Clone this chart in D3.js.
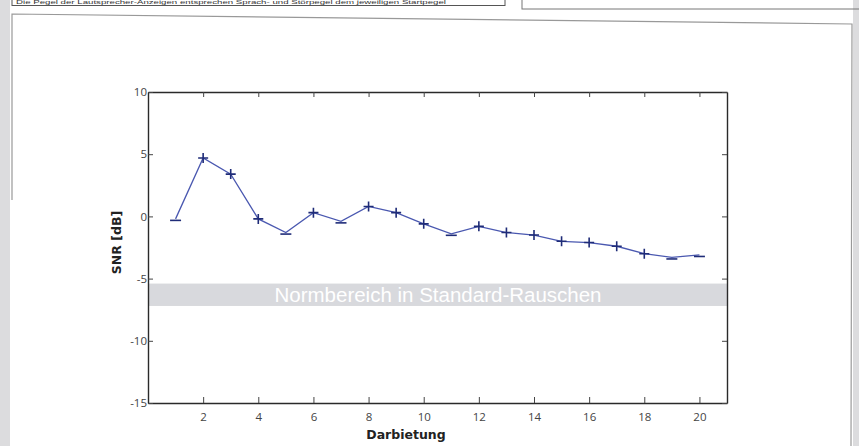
<!DOCTYPE html>
<html>
<head>
<meta charset="utf-8">
<script src="https://cdn.jsdelivr.net/npm/d3@7"></script>
<style>
  html, body { margin: 0; padding: 0; background: #dcdcde; }
  svg { display: block; }
</style>
</head>
<body>
<svg id="page" width="859" height="446"></svg>
<script>
// Presentations (Darbietung) and measured SNR in dB
const darbietung = [1, 2, 3, 4, 5, 6, 7, 8, 9, 10, 11, 12, 13, 14, 15, 16, 17, 18, 19, 20];
const snrValues  = [-0.2, 4.7, 3.4, -0.2, -1.3, 0.3, -0.4, 0.8, 0.3, -0.6, -1.4, -0.8, -1.3, -1.5, -2.0, -2.1, -2.4, -3.0, -3.3, -3.1];
// response marker per presentation: "+" or "-"
const markers    = ["-", "+", "+", "+", "-", "+", "-", "+", "+", "+", "-", "+", "+", "+", "+", "+", "+", "+", "-", "-"];
const xTicks     = [2, 4, 6, 8, 10, 12, 14, 16, 18, 20];
const yTicks     = [-15, -10, -5, 0, 5, 10];
const normRange  = [-7.2, -5.4];
const normLabel  = "Normbereich in Standard-Rauschen";
const headerText = "Die Pegel der Lautsprecher-Anzeigen entsprechen Sprach- und Störpegel dem jeweiligen Startpegel";

const svg = d3.select("#page");

// sheet background and frames
svg.append("rect").attr("x", 10).attr("y", 0).attr("width", 843).attr("height", 446).attr("fill", "#ffffff");
svg.append("rect").attr("x", 12).attr("y", -10).attr("width", 493).attr("height", 15.5)
  .attr("fill", "none").attr("stroke", "#555").attr("stroke-width", 1);
svg.append("rect").attr("x", 522).attr("y", -10).attr("width", 345).attr("height", 19)
  .attr("fill", "none").attr("stroke", "#777").attr("stroke-width", 1);
svg.append("text").attr("x", 16).attr("y", 4.3)
  .attr("font-family", "Liberation Sans, Arial, sans-serif").attr("font-size", 5.6).attr("fill", "#333")
  .attr("textLength", 430).attr("lengthAdjust", "spacingAndGlyphs")
  .text(headerText);
svg.append("path").attr("d", "M12,200 L12,14 L852,24 L851,446")
  .attr("fill", "none").attr("stroke", "#999").attr("stroke-width", 1.2);

// plot area
const pLeft = 148, pRight = 727, pTop = 92, pBottom = 403;
const x = d3.scaleLinear().domain([0, 21]).range([pLeft, pRight]);
const y = d3.scaleLinear().domain([-15, 10]).range([pBottom, pTop]);

const g = svg.append("g");

// normal range band
g.append("rect")
  .attr("x", x(0)).attr("width", x(21) - x(0))
  .attr("y", y(normRange[1])).attr("height", y(normRange[0]) - y(normRange[1]))
  .attr("fill", "#d8d9dd");
g.append("text")
  .attr("x", 438).attr("y", (y(normRange[0]) + y(normRange[1])) / 2 + 7)
  .attr("text-anchor", "middle")
  .attr("font-family", "Liberation Sans, Arial, sans-serif").attr("font-size", 20.5)
  .attr("fill", "#ffffff")
  .text(normLabel);

// axes with inward ticks
const tickFont = "Open Sans, Liberation Sans, sans-serif";
const fmt = d => String(d);
const axB = g.append("g").attr("transform", `translate(0,${pBottom})`)
  .call(d3.axisBottom(x).tickValues(xTicks).tickFormat(fmt).tickSizeInner(-6).tickSizeOuter(0).tickPadding(10));
const axT = g.append("g").attr("transform", `translate(0,${pTop})`)
  .call(d3.axisTop(x).tickValues(xTicks).tickSizeInner(-5).tickSizeOuter(0).tickFormat(""));
const axL = g.append("g").attr("transform", `translate(${pLeft},0)`)
  .call(d3.axisLeft(y).tickValues(yTicks).tickFormat(fmt).tickSizeInner(-5).tickSizeOuter(0).tickPadding(4));
const axR = g.append("g").attr("transform", `translate(${pRight},0)`)
  .call(d3.axisRight(y).tickValues(yTicks).tickSizeInner(-5).tickSizeOuter(0).tickFormat(""));
[axB, axT, axL, axR].forEach(a => {
  a.select(".domain").attr("stroke", "#2a2a2a").attr("stroke-width", 1.4);
  a.selectAll(".tick line").attr("stroke", "#444").attr("stroke-width", 1);
  a.selectAll(".tick text").attr("font-family", tickFont).attr("font-size", 11.5).attr("fill", "#444");
});
axL.selectAll(".tick text").attr("dx", 3);

// axis titles
svg.append("text")
  .attr("transform", `translate(121,${(pTop + pBottom) / 2 - 5}) rotate(-90)`)
  .attr("text-anchor", "middle")
  .attr("font-family", "DejaVu Sans, Verdana, sans-serif").attr("font-weight", "bold").attr("font-size", 12.5)
  .attr("fill", "#222")
  .text("SNR [dB]");
svg.append("text")
  .attr("x", 406).attr("y", 439)
  .attr("text-anchor", "middle")
  .attr("font-family", "DejaVu Sans, Verdana, sans-serif").attr("font-weight", "bold").attr("font-size", 12.5)
  .attr("fill", "#222")
  .text("Darbietung");

// SNR course
const pts = darbietung.map((d, i) => ({ d, v: snrValues[i], m: markers[i] }));
g.append("path")
  .datum(pts)
  .attr("fill", "none").attr("stroke", "#4a58b0").attr("stroke-width", 1.3)
  .attr("d", d3.line().x(p => x(p.d)).y(p => y(p.v)));

const mk = g.append("g").attr("stroke", "#1f2c78").attr("stroke-width", 1.6).attr("fill", "none");
pts.forEach(p => {
  const cx = x(p.d), cy = y(p.v);
  if (p.m === "+") {
    mk.append("path").attr("d", `M${cx - 5},${cy} H${cx + 5} M${cx},${cy - 5} V${cy + 5}`);
  } else {
    mk.append("path").attr("d", `M${cx - 5.5},${cy + 1.5} H${cx + 5.5}`);
  }
});
</script>
</body>
</html>
